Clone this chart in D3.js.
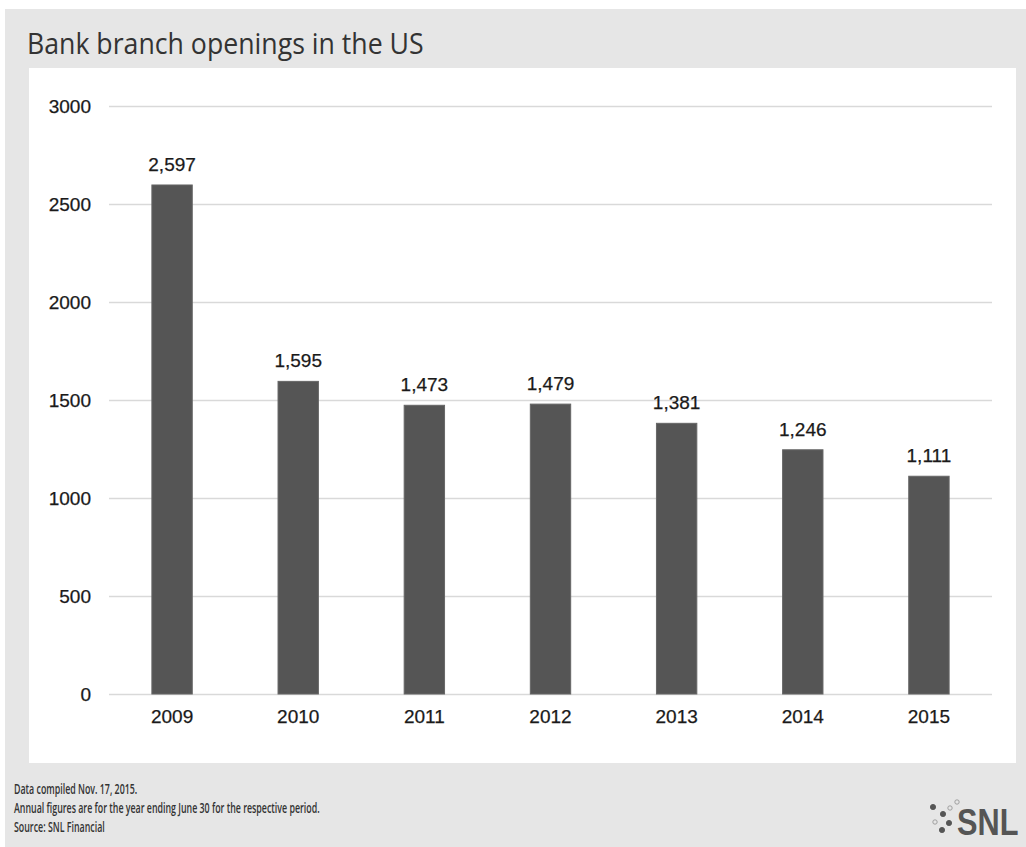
<!DOCTYPE html>
<html>
<head>
<meta charset="utf-8" />
<style>
    body { margin: 0; background: #fff; }
    svg { display: block; }
    .tick text { font-family: "Liberation Sans", Arial, sans-serif; font-size: 19px; fill: #1a1a1a; stroke: #1a1a1a; stroke-width: 0.25px; }
    .value { font-family: "Liberation Sans", Arial, sans-serif; font-size: 19px; fill: #1a1a1a; stroke: #1a1a1a; stroke-width: 0.25px; }
    .note { font-family: "Open Sans", sans-serif; font-size: 15px; font-weight: 600; fill: #333; }
</style>
</head>
<body>
<div id="chart"></div>
<script src="https://d3js.org/d3.v7.min.js"></script>
<script>
    var years = ['2009', '2010', '2011', '2012', '2013', '2014', '2015'];
    var openings = [2597, 1595, 1473, 1479, 1381, 1246, 1111];
    var yTicks = [0, 500, 1000, 1500, 2000, 2500, 3000];
    var notes = [
        'Data compiled Nov. 17, 2015.',
        'Annual figures are for the year ending June 30 for the respective period.',
        'Source: SNL Financial'
    ];

    var width = 1026, height = 847;
    var svg = d3.select('#chart').append('svg')
        .attr('width', width)
        .attr('height', height);

    // grey frame and white plot panel
    svg.append('rect').attr('x', 5).attr('y', 9).attr('width', 1021).attr('height', 838).attr('fill', '#e6e6e6');
    svg.append('rect').attr('x', 29).attr('y', 68).attr('width', 987).attr('height', 695).attr('fill', '#fff');

    svg.append('text')
        .attr('transform', 'translate(27,54) scale(0.89,1)')
        .style('font-family', '"Open Sans", sans-serif')
        .style('font-size', '30px')
        .style('fill', '#333')
        .text('Bank branch openings in the US');

    var x = d3.scaleBand().domain(years).range([109, 992]).paddingInner(0.68).paddingOuter(0.34);
    var y = d3.scaleLinear().domain([0, 3000]).range([694, 106]);

    // gridlines + y labels
    var yAxis = svg.append('g')
        .attr('transform', 'translate(109,0)')
        .call(d3.axisLeft(y).tickValues(yTicks).tickFormat(d3.format('d')).tickSize(-883).tickPadding(18));
    yAxis.select('.domain').remove();
    yAxis.selectAll('.tick line').attr('stroke', '#d9d9d9').attr('stroke-width', 1.5);

    svg.selectAll('.bar')
        .data(openings)
        .enter().append('rect')
        .attr('class', 'bar')
        .attr('x', function(d, i) { return x(years[i]); })
        .attr('y', function(d) { return y(d); })
        .attr('width', x.bandwidth())
        .attr('height', function(d) { return y(0) - y(d); })
        .attr('fill', '#555')
        .attr('stroke', '#666')
        .attr('stroke-width', 1);

    svg.selectAll('.value')
        .data(openings)
        .enter().append('text')
        .attr('class', 'value')
        .attr('x', function(d, i) { return x(years[i]) + x.bandwidth() / 2; })
        .attr('y', function(d) { return y(d) - 14; })
        .attr('text-anchor', 'middle')
        .text(function(d) { return d3.format(',')(d); });

    var xAxis = svg.append('g')
        .attr('transform', 'translate(0,694)')
        .call(d3.axisBottom(x).tickSize(0).tickPadding(16));
    xAxis.select('.domain').remove();

    // footnotes (condensed look)
    svg.selectAll('.note')
        .data(notes)
        .enter().append('text')
        .attr('class', 'note')
        .attr('transform', function(d, i) { return 'translate(14,' + (794 + i * 19) + ') scale(0.59,1)'; })
        .text(function(d) { return d; });

    // SNL logo
    var logo = svg.append('g').attr('transform', 'translate(957,835)');
    logo.append('text')
        .attr('transform', 'scale(0.83,1)')
        .style('font-family', '"Liberation Sans", Arial, sans-serif')
        .style('font-weight', 'bold')
        .style('font-size', '37px')
        .style('fill', '#555')
        .text('SNL');
    var dots = [[-24, -28, 1], [-14, -21, 1], [-8, -12, 1], [-15, -5, 1], [-7, -27, 0], [0, -33, 0], [-22, -13, 0]];
    logo.selectAll('.dot')
        .data(dots)
        .enter().append('circle')
        .attr('cx', function(d) { return d[0]; })
        .attr('cy', function(d) { return d[1]; })
        .attr('r', function(d) { return d[2] ? 2.6 : 2.2; })
        .attr('fill', function(d) { return d[2] ? '#555' : 'none'; })
        .attr('stroke', function(d) { return d[2] ? '#555' : '#999'; })
        .attr('stroke-width', 0.9);
</script>
</body>
</html>
